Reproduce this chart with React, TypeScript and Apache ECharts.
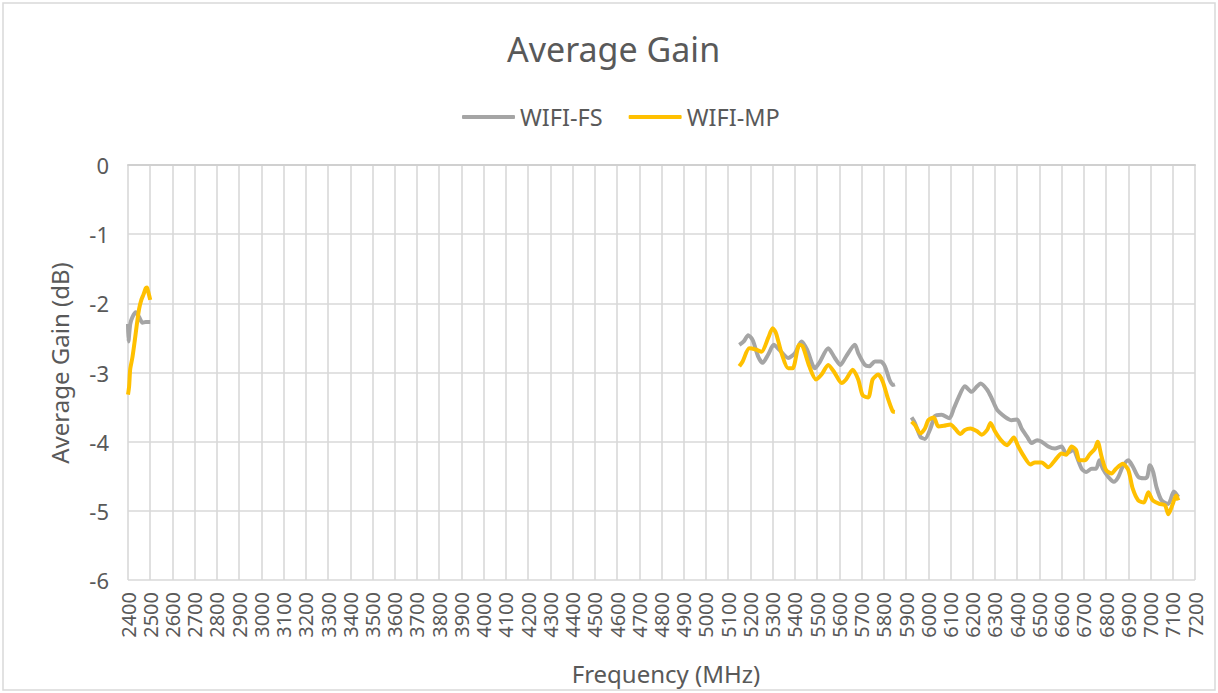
import React, { useEffect, useRef } from "react";
import * as echarts from "echarts";

const xTicks = { min: 2400, max: 7200, interval: 100 };
const yTicks = { min: -6, max: 0, interval: 1 };

const fs24Freq = [2400, 2402, 2410, 2420, 2435, 2450, 2465, 2480, 2500];
const fs24Gain = [-2.3, -2.55, -2.3, -2.2, -2.13, -2.2, -2.28, -2.27, -2.27];
const mp24Freq = [2400, 2405, 2410, 2420, 2430, 2440, 2450, 2460, 2470, 2480, 2485, 2490, 2500];
const mp24Gain = [-3.32, -3.2, -2.95, -2.78, -2.55, -2.3, -2.08, -1.95, -1.87, -1.78, -1.77, -1.82, -1.95];

const fs5Freq = [5150, 5170, 5190, 5210, 5235, 5255, 5280, 5305, 5330, 5370, 5400, 5430, 5455, 5490, 5510, 5550, 5580, 5605, 5630, 5670, 5685, 5715, 5735, 5760, 5785, 5805, 5825, 5840, 5850];
const fs5Gain = [-2.6, -2.55, -2.46, -2.53, -2.77, -2.86, -2.74, -2.6, -2.67, -2.79, -2.72, -2.55, -2.67, -2.94, -2.86, -2.65, -2.79, -2.89, -2.77, -2.6, -2.72, -2.89, -2.91, -2.84, -2.84, -2.91, -3.1, -3.18, -3.17];
const mp5Freq = [5150, 5165, 5195, 5225, 5250, 5280, 5300, 5315, 5340, 5370, 5390, 5420, 5435, 5465, 5495, 5520, 5550, 5580, 5610, 5630, 5660, 5685, 5705, 5730, 5750, 5775, 5795, 5820, 5840, 5850];
const mp5Gain = [-2.91, -2.84, -2.65, -2.67, -2.7, -2.5, -2.36, -2.43, -2.72, -2.94, -2.94, -2.6, -2.62, -2.91, -3.1, -3.03, -2.89, -3.01, -3.15, -3.1, -2.96, -3.1, -3.33, -3.36, -3.1, -3.03, -3.13, -3.39, -3.56, -3.57];

const fs6Freq = [5925, 5940, 5965, 5985, 6010, 6030, 6060, 6095, 6115, 6135, 6165, 6195, 6220, 6235, 6265, 6285, 6310, 6345, 6375, 6400, 6420, 6445, 6465, 6490, 6510, 6540, 6570, 6600, 6620, 6655, 6665, 6690, 6710, 6735, 6755, 6770, 6785, 6810, 6835, 6855, 6875, 6900, 6920, 6945, 6970, 6985, 6997, 7012, 7027, 7050, 7080, 7105, 7125];
const fs6Gain = [-3.65, -3.73, -3.93, -3.96, -3.81, -3.63, -3.61, -3.66, -3.52, -3.37, -3.2, -3.28, -3.2, -3.16, -3.25, -3.37, -3.54, -3.64, -3.69, -3.68, -3.81, -3.93, -4.02, -3.98, -4.0, -4.07, -4.1, -4.07, -4.17, -4.12, -4.19, -4.39, -4.44, -4.39, -4.39, -4.27, -4.39, -4.51, -4.58, -4.51, -4.36, -4.27, -4.36, -4.51, -4.53, -4.51, -4.34, -4.44, -4.66, -4.85, -4.9, -4.72, -4.8];
const mp6Freq = [5925, 5940, 5965, 5985, 6000, 6025, 6045, 6070, 6100, 6120, 6145, 6165, 6190, 6220, 6240, 6265, 6280, 6300, 6325, 6355, 6385, 6405, 6430, 6460, 6480, 6510, 6540, 6570, 6600, 6620, 6645, 6665, 6680, 6705, 6725, 6750, 6762, 6780, 6800, 6825, 6845, 6875, 6900, 6920, 6945, 6970, 6990, 7010, 7040, 7065, 7080, 7100, 7115, 7125];
const mp6Gain = [-3.71, -3.76, -3.88, -3.81, -3.69, -3.65, -3.78, -3.77, -3.75, -3.81, -3.89, -3.83, -3.81, -3.85, -3.9, -3.83, -3.73, -3.85, -3.97, -4.05, -3.94, -4.07, -4.21, -4.33, -4.3, -4.3, -4.37, -4.27, -4.17, -4.19, -4.07, -4.12, -4.27, -4.27, -4.19, -4.1, -4.0, -4.22, -4.41, -4.46, -4.39, -4.32, -4.41, -4.68, -4.85, -4.88, -4.73, -4.85, -4.9, -4.92, -5.05, -4.9, -4.78, -4.85];

const seriesNames = ["WIFI-FS", "WIFI-MP"];
const seriesColors = ["#A5A5A5", "#FFC000"];

const FONT = "'Noto Sans', sans-serif";
const TXT = "#595959";

function pairs(f: number[], g: number[]) {
  return f.map((x, i) => [x, g[i]]);
}

export default function App() {
  const ref = useRef<HTMLDivElement>(null);
  useEffect(() => {
    if (!ref.current) return;
    const chart = echarts.init(ref.current, null, { renderer: "svg" });
    const bands = [
      [fs24Freq, fs24Gain, mp24Freq, mp24Gain],
      [fs5Freq, fs5Gain, mp5Freq, mp5Gain],
      [fs6Freq, fs6Gain, mp6Freq, mp6Gain],
    ];
    const series: any[] = [];
    bands.forEach((b) => {
      [0, 1].forEach((k) => {
        series.push({
          name: seriesNames[k],
          type: "line",
          data: pairs(b[k * 2], b[k * 2 + 1]),
          symbol: "none",
          smooth: 0.25,
          lineStyle: { color: seriesColors[k], width: 4 },
          itemStyle: { color: seriesColors[k] },
          z: k === 0 ? 3 : 4,
        });
      });
    });
    chart.setOption({
      animation: false,
      backgroundColor: "#ffffff",
      title: {
        text: "Average Gain",
        left: 502,
        top: 27,
        textStyle: { fontFamily: FONT, fontSize: 34, fontWeight: "normal", color: TXT },
      },
      legend: {
        data: seriesNames.map((n) => ({ name: n, icon: "roundRect" })),
        top: 100,
        left: 457,
        itemWidth: 53,
        itemHeight: 4,
        itemGap: 26,
        textStyle: { fontFamily: FONT, fontSize: 23.5, color: TXT },
      },
      grid: { left: 128, top: 165, width: 1067, height: 415, containLabel: false },
      xAxis: {
        type: "value",
        min: xTicks.min,
        max: xTicks.max,
        interval: xTicks.interval,
        axisLine: { show: true, lineStyle: { color: "#D0D0D0", width: 2 } },
        axisTick: { show: false },
        splitLine: { show: true, lineStyle: { color: "#D9D9D9", width: 1.6 } },
        axisLabel: {
          rotate: 90,
          margin: 12,
          fontFamily: FONT,
          fontSize: 20,
          color: TXT,
          showMinLabel: true,
          showMaxLabel: true,
          hideOverlap: false,
          formatter: (v: number) => String(v),
        },
      },
      yAxis: {
        type: "value",
        min: yTicks.min,
        max: yTicks.max,
        interval: yTicks.interval,
        axisLine: { show: false },
        axisTick: { show: false },
        splitLine: { show: true, lineStyle: { color: "#D9D9D9", width: 1.6 } },
        axisLabel: { margin: 19, fontFamily: FONT, fontSize: 22, color: TXT },
      },
      graphic: [
        {
          type: "rect",
          shape: { x: 3, y: 3, width: 1212, height: 687 },
          style: { fill: "none", stroke: "#D9D9D9", lineWidth: 1.5 },
          silent: true,
        },
        {
          type: "text",
          x: 59,
          y: 363,
          rotation: Math.PI / 2,
          style: {
            text: "Average Gain (dB)",
            fontFamily: FONT,
            fontSize: 24,
            fill: TXT,
            align: "center",
            verticalAlign: "middle",
          },
        },
        {
          type: "text",
          x: 666,
          y: 673,
          style: {
            text: "Frequency (MHz)",
            fontFamily: FONT,
            fontSize: 24,
            fill: TXT,
            align: "center",
            verticalAlign: "middle",
          },
        },
      ],
      series,
    });
    return () => chart.dispose();
  }, []);
  return (
    <div
      ref={ref}
      style={{ position: "absolute", left: 0, top: 0, width: 1218, height: 693 }}
    />
  );
}
